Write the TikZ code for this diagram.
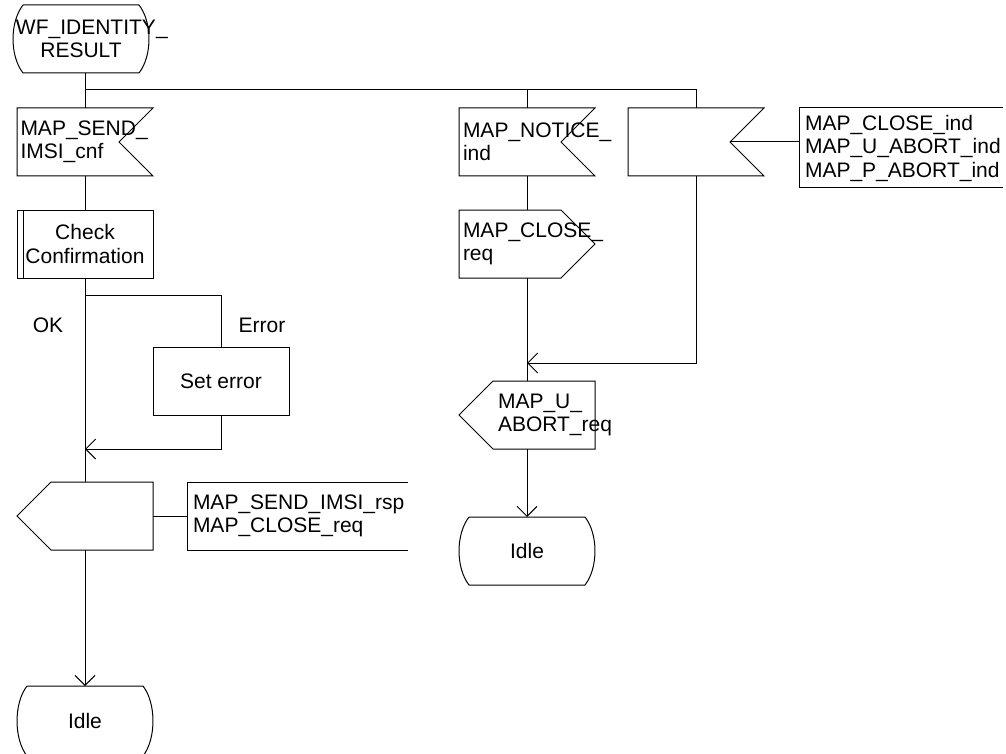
\documentclass[tikz,border=0pt]{standalone}
\usepackage{fontspec}
\setmainfont{Liberation Sans}
\usetikzlibrary{arrows.meta,positioning,calc}
\hyphenpenalty=10000
\uchyph=0
\newcommand\sdlfont{\fontsize{21pt}{23.5pt}\selectfont}
\tikzset{
  sdlline/.style={draw=black,line width=1pt},
  flow/.style={sdlline,-{Straight Barb[length=10pt,width=20pt]}},
  sym/.style={minimum width=136pt,minimum height=68pt,inner ysep=0pt,outer sep=0pt,font=\sdlfont},
  txt/.style 2 args={align=left,inner xsep=#1,text width=#2},
  sdlin/.style={sym,append after command={\pgfextra{\draw[sdlline] (\tikzlastnode.north west) -- (\tikzlastnode.north east) -- ([xshift=-34pt]\tikzlastnode.east) -- (\tikzlastnode.south east) -- (\tikzlastnode.south west) -- cycle;}}},
  sdloutr/.style={sym,append after command={\pgfextra{\draw[sdlline] (\tikzlastnode.north west) -- ([xshift=-34pt]\tikzlastnode.north east) -- (\tikzlastnode.east) -- ([xshift=-34pt]\tikzlastnode.south east) -- (\tikzlastnode.south west) -- cycle;}}},
  sdloutl/.style={sym,append after command={\pgfextra{\draw[sdlline] ([xshift=34pt]\tikzlastnode.north west) -- (\tikzlastnode.north east) -- (\tikzlastnode.south east) -- ([xshift=34pt]\tikzlastnode.south west) -- (\tikzlastnode.west) -- cycle;}}},
  sdlstate/.style={sym,align=center,append after command={\pgfextra{\draw[sdlline] ([xshift=10pt]\tikzlastnode.north west) -- ([xshift=-10pt]\tikzlastnode.north east) .. controls ([xshift=3.3pt,yshift=-17pt]\tikzlastnode.north east) and ([xshift=3.3pt,yshift=17pt]\tikzlastnode.south east) .. ([xshift=-10pt]\tikzlastnode.south east) -- ([xshift=10pt]\tikzlastnode.south west) .. controls ([xshift=-3.3pt,yshift=17pt]\tikzlastnode.south west) and ([xshift=-3.3pt,yshift=-17pt]\tikzlastnode.north west) .. ([xshift=10pt]\tikzlastnode.north west);}}},
  sdlproc/.style={sym,sdlline,align=center,append after command={\pgfextra{\draw[sdlline] ([xshift=6pt]\tikzlastnode.north west) -- ([xshift=6pt]\tikzlastnode.south west);}}},
  sdltask/.style={sym,sdlline,align=center},
  sdlnote/.style={sym,append after command={\pgfextra{\draw[sdlline] (\tikzlastnode.north east) -- (\tikzlastnode.north west) -- (\tikzlastnode.south west) -- (\tikzlastnode.south east);}}}
}
\begin{document}
\begin{tikzpicture}
  \useasboundingbox (0,0) rectangle (1006pt,-754pt);
  % left branch
  \node[sdlstate,text width=130pt,inner xsep=0pt] (start) at (81pt,-39pt) {WF\_IDENTITY\_\\RESULT};
  \node[sdlin,txt={3.5pt}{129pt}] (cnf) at (85pt,-142pt) {MAP\_SEND\_\\IMSI\_cnf};
  \node[sdlproc,below=34pt of cnf] (check) {Check\\Confirmation};
  \node[sdltask,below right=69pt and 0pt of check.south east] (seterr) {Set error};
  \node[sdloutl,below=204pt of check] (rsp) {};
  \node[sdlnote,txt={6pt}{209pt},right=34pt of rsp] (c1) {MAP\_SEND\_IMSI\_rsp\\MAP\_CLOSE\_req};
  \node[sdlstate,minimum height=70pt,below=136pt of rsp] (idle) {Idle};
  \node[font=\sdlfont] (lok) at (48pt,-325pt) {OK};
  \node[font=\sdlfont] (lerr) at (262pt,-325pt) {Error};
  % middle and right branches
  \node[sdlin,txt={4pt}{128pt},right=306pt of cnf] (notice) {MAP\_NOTICE\_\\ind};
  \node[sdlin,right=33pt of notice] (rest) {};
  \node[sdlnote,txt={6pt}{192pt},minimum width=204pt,minimum height=80pt,below right=0pt and 35pt of rest.north east] (c2) {MAP\_CLOSE\_ind\\MAP\_U\_ABORT\_ind\\MAP\_P\_ABORT\_ind};
  \node[sdloutr,txt={4pt}{128pt},below=34pt of notice] (closereq) {MAP\_CLOSE\_\\req};
  \node[sdloutl,txt={39pt}{58pt},below=103pt of closereq] (abort) {MAP\_U\_\\ABORT\_req};
  \node[sdlstate,below=68pt of abort] (idle2) {Idle};

  \coordinate (fork) at ($(start.south)+(0,-17pt)$);
  \coordinate (split) at ($(check.south)+(0,-17pt)$);
  \coordinate (merge) at ($(seterr.south)+(0,-34pt)$);
  \coordinate (merge2) at ($(abort.north)+(0,18pt)$);

  \draw[sdlline] (start.south -| cnf.north) -- (cnf.north);
  \draw[sdlline] (cnf.north |- fork) -| (rest.north);
  \draw[sdlline] (notice.north |- fork) -- (notice.north);
  \draw[sdlline] (cnf.south) -- (check.north);
  \draw[sdlline] (check.south) -- (rsp.north);
  \draw[sdlline] (check.south |- split) -| (seterr.north);
  \draw[flow] (seterr.south) |- (check.south |- merge);
  \draw[sdlline] (rsp.east) -- (c1.west);
  \draw[flow] (rsp.south) -- (idle.north);
  \draw[sdlline] (notice.south) -- (closereq.north);
  \draw[sdlline] (closereq.south) -- (abort.north);
  \draw[flow] (rest.south) |- (abort.north |- merge2);
  \draw[flow] (abort.south) -- (idle2.north);
  \draw[sdlline] ([xshift=-34pt]rest.east) -- (c2.west |- rest.east);
\end{tikzpicture}
\end{document}
